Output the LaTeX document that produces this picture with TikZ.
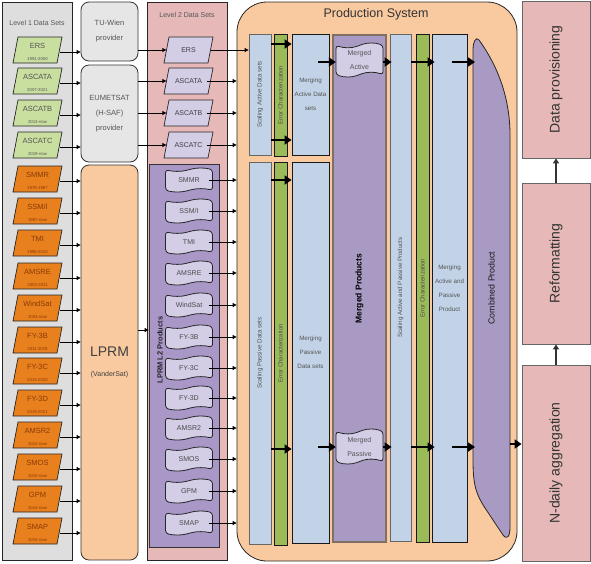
\documentclass[tikz,border=0pt]{standalone}
\usepackage{fontspec}
\setmainfont{Liberation Sans}
\usetikzlibrary{arrows.meta}
\definecolor{panelgray}{HTML}{DEDEDE}
\definecolor{provgray}{HTML}{E6E6E6}
\definecolor{lgreen}{HTML}{C9DF9F}
\definecolor{orng}{HTML}{E8801E}
\definecolor{orngtxt}{HTML}{8A3A06}
\definecolor{pinkp}{HTML}{E6B9B8}
\definecolor{lav}{HTML}{D3CDE6}
\definecolor{purp}{HTML}{A897C7}
\definecolor{peach}{HTML}{F9C9A0}
\definecolor{lblue}{HTML}{C2D3E7}
\definecolor{olive}{HTML}{9BBB59}
\definecolor{mpurp}{HTML}{A99AC4}
\definecolor{txtgray}{HTML}{555555}
\definecolor{mbrown}{HTML}{806F63}
\newcommand\fsz[2]{\fontsize{#1}{#2}\selectfont}
\newcommand\bx[7]{\node[#6,inner sep=0pt,minimum width={(#4-#2)*1pt},minimum height={(#5-#3)*1pt}] (#1) at ({(#2+#4)/2},{(#3+#5)/2}) {#7};}
\newcommand\para[6]{%
 \path[#4] ({#2-24.5},{#3+13}) -- ({#2-19.5},{#3-13}) -- ({#2+24.5},{#3-13}) -- ({#2+19.5},{#3+13}) -- cycle;
 \node[inner sep=0pt,minimum width=44pt,minimum height=26pt,#5] (#1) at (#2,#3) {#6};}
\newcommand\tape[7]{%
 \pgfmathsetmacro\tpxa{#2-#4/2}\pgfmathsetmacro\tpxb{#2+#4/2}%
 \pgfmathsetmacro\tpya{#3-#5/2}\pgfmathsetmacro\tpyb{#3+#5/2}%
 \pgfmathsetmacro\tpd{0.14*#5}\pgfmathsetmacro\tpw{#4}%
 \path[tapeshape] (\tpxa,{\tpya+\tpd/2}) .. controls ({\tpxa+\tpw/6},{\tpya+1.1*\tpd}) and ({\tpxa+\tpw/3},{\tpya+1.1*\tpd}) .. ({\tpxa+\tpw/2},{\tpya+\tpd/2}) .. controls ({\tpxa+2*\tpw/3},{\tpya-0.1*\tpd}) and ({\tpxa+5*\tpw/6},{\tpya-0.1*\tpd}) .. (\tpxb,{\tpya+\tpd/2}) -- (\tpxb,{\tpyb-\tpd/2}) .. controls ({\tpxa+5*\tpw/6},{\tpyb-1.1*\tpd}) and ({\tpxa+2*\tpw/3},{\tpyb-1.1*\tpd}) .. ({\tpxa+\tpw/2},{\tpyb-\tpd/2}) .. controls ({\tpxa+\tpw/3},{\tpyb+0.1*\tpd}) and ({\tpxa+\tpw/6},{\tpyb+0.1*\tpd}) .. (\tpxa,{\tpyb-\tpd/2}) -- cycle;
 \node[inner sep=0pt,minimum width=#4pt,minimum height=#5pt,#6] (#1) at (#2,#3) {#7};}
\tikzset{
 panel/.style={fill=panelgray,draw=black!85,line width=0.8pt},
 prov/.style={fill=provgray,draw=black!80,line width=0.8pt,rounded corners=8pt,align=center,text=txtgray,font=\fsz{7.5}{15}},
 title/.style={text=txtgray,font=\fsz{7}{8}},
 greenpar/.style={fill=lgreen,draw=black!85,line width=0.7pt},
 orangepar/.style={fill=orng,draw=black!85,line width=0.7pt},
 lavpar/.style={fill=lav,draw=black!85,line width=0.7pt},
 l1text/.style={align=center,font=\fsz{7.5}{12},yshift=-2pt},
 l2text/.style={text=black!75,font=\fsz{7}{8}},
 tapeshape/.style={fill=lav,draw=black!85,line width=0.8pt,rounded corners=3pt},
 tapetext/.style={text=black!70,font=\fsz{7}{8},align=center},
 bluebox/.style={fill=lblue,draw=black!60,line width=0.8pt,text=txtgray,font=\fsz{6.2}{14},align=center},
 blueboxk/.style={fill=lblue,draw=black!90,line width=0.8pt,text=txtgray,font=\fsz{6.2}{14},align=center},
 greenbox/.style={fill=olive,draw=black!90,line width=0.8pt,text=black!70,font=\fsz{6}{7}},
 pinkbox/.style={fill=pinkp,draw=black!60,line width=0.8pt,text=black!80,font=\fsz{14}{16}},
 thinarr/.style={draw=black,line width=0.8pt,-{Triangle[length=4pt,width=4pt]}},
 thickarr/.style={draw=black,line width=2.6pt,-{Triangle[length=7pt,width=9pt]}},
 vertarr/.style={draw=black!80,line width=1.3pt,-{Triangle[length=5pt,width=6pt]}},
}
\begin{document}
\begin{tikzpicture}[x=1pt,y=-1pt]
\useasboundingbox (0,0) rectangle (591,563);
% ---------- Level 1 ----------
\bx{l1p}{2}{2}{72}{560}{panel}{}
\node[title] (l1t) at (37,23) {Level 1 Data Sets};
\para{ers1}{37.5}{50}{greenpar}{l1text,text=txtgray}{ERS\\{\fsz{4.3}{12}1991-2000}}
\para{ascata1}{37.5}{81}{greenpar}{l1text,text=txtgray}{ASCATA\\{\fsz{4.3}{12}2007-2021}}
\para{ascatb1}{37.5}{113}{greenpar}{l1text,text=txtgray}{ASCATB\\{\fsz{4.3}{12}2013-now}}
\para{ascatc1}{37.5}{145}{greenpar}{l1text,text=txtgray}{ASCATC\\{\fsz{4.3}{12}2019-now}}
\para{smmr1}{37.5}{179}{orangepar}{l1text,text=orngtxt}{SMMR\\{\fsz{4.3}{12}1978-1987}}
\para{ssmi1}{37.5}{211}{orangepar}{l1text,text=orngtxt}{SSM/I\\{\fsz{4.3}{12}1987-now}}
\para{tmi1}{37.5}{243}{orangepar}{l1text,text=orngtxt}{TMI\\{\fsz{4.3}{12}1998-2015}}
\para{amsre1}{37.5}{276}{orangepar}{l1text,text=orngtxt}{AMSRE\\{\fsz{4.3}{12}2002-2011}}
\para{windsat1}{37.5}{308}{orangepar}{l1text,text=orngtxt}{WindSat\\{\fsz{4.3}{12}2003-now}}
\para{fythreeb1}{37.5}{340}{orangepar}{l1text,text=orngtxt}{FY-3B\\{\fsz{4.3}{12}2011-2019}}
\para{fythreec1}{37.5}{371}{orangepar}{l1text,text=orngtxt}{FY-3C\\{\fsz{4.3}{12}2013-2020}}
\para{fythreed1}{37.5}{403}{orangepar}{l1text,text=orngtxt}{FY-3D\\{\fsz{4.3}{12}2019-2021}}
\para{amsrtwo1}{37.5}{435}{orangepar}{l1text,text=orngtxt}{AMSR2\\{\fsz{4.3}{12}2012-now}}
\para{smos1}{37.5}{467}{orangepar}{l1text,text=orngtxt}{SMOS\\{\fsz{4.3}{12}2010-now}}
\para{gpm1}{37.5}{499}{orangepar}{l1text,text=orngtxt}{GPM\\{\fsz{4.3}{12}2014-now}}
\para{smap1}{37.5}{531}{orangepar}{l1text,text=orngtxt}{SMAP\\{\fsz{4.3}{12}2015-now}}
% ---------- Providers ----------
\bx{tuw}{81}{2}{138}{61}{prov}{TU-Wien\\provider}
\bx{eum}{81}{65}{138}{162}{prov}{EUMETSAT\\(H-SAF)\\provider}
\bx{lprm}{81}{165}{138}{560}{prov,fill=peach,text=black!75,font=\fsz{14}{20}}{LPRM\\{\fsz{7}{20}(VanderSat)}}
% ---------- Level 2 ----------
\bx{l2p}{147}{2}{227}{560}{panel,fill=pinkp}{}
\node[title] (l2t) at (187,15) {Level 2 Data Sets};
\para{ers2}{188.5}{50}{lavpar}{l2text}{ERS}
\para{ascata2}{188.5}{81}{lavpar}{l2text}{ASCATA}
\para{ascatb2}{188.5}{113}{lavpar}{l2text}{ASCATB}
\para{ascatc2}{188.5}{145}{lavpar}{l2text}{ASCATC}
\bx{lprml2}{149}{164}{219}{547}{fill=purp,draw=black!80,line width=0.8pt}{}
\node[font=\bfseries\fsz{7.5}{9},text=black!85] (lprml2t) at (160,350) {\rotatebox{90}{LPRM L2 Products}};
\tape{smmr2}{189}{180}{47}{24}{tapetext}{SMMR}
\tape{ssmi2}{189}{211}{47}{24}{tapetext}{SSM/I}
\tape{tmi2}{189}{242}{47}{24}{tapetext}{TMI}
\tape{amsre2}{189}{273}{47}{24}{tapetext}{AMSRE}
\tape{windsat2}{189}{305}{47}{24}{tapetext}{WindSat}
\tape{fythreeb2}{189}{337}{47}{24}{tapetext}{FY-3B}
\tape{fythreec2}{189}{368}{47}{24}{tapetext}{FY-3C}
\tape{fythreed2}{189}{398}{47}{24}{tapetext}{FY-3D}
\tape{amsrtwo2}{189}{428}{47}{24}{tapetext}{AMSR2}
\tape{smos2}{189}{459}{47}{24}{tapetext}{SMOS}
\tape{gpm2}{189}{491}{47}{24}{tapetext}{GPM}
\tape{smap2}{189}{523}{47}{24}{tapetext}{SMAP}
% ---------- Production system ----------
\bx{prod}{237}{2}{517}{561}{fill=peach,draw=black!85,line width=0.8pt,rounded corners=30pt}{}
\node[text=black!80,font=\fsz{12.5}{14}] (prodt) at (376,14) {Production System};
\bx{sa}{249}{34}{271}{155}{bluebox}{\rotatebox{90}{Scaling Active Data sets}}
\bx{ea}{274}{34}{287}{156}{greenbox}{\rotatebox{90}{Error Characterization}}
\bx{ma}{292}{34}{329}{155}{blueboxk}{Merging\\Active Data\\sets}
\bx{sp}{249}{162}{271}{544}{bluebox}{\rotatebox{90}{Scaling Passive Data sets}}
\bx{ep}{274}{162}{287}{545}{greenbox}{\rotatebox{90}{Error Characterization}}
\bx{mp}{292}{162}{329}{543}{blueboxk}{Merging\\Passive\\Data sets}
\bx{mprod}{333}{35}{386}{542}{fill=mpurp,draw=mbrown,line width=1.5pt,font=\bfseries\fsz{8.5}{10},text=black}{\rotatebox{90}{Merged Products}}
\bx{sap}{390}{34}{411}{541}{bluebox}{\rotatebox{90}{Scaling Active and Passive Products}}
\bx{ec}{416}{34}{429}{542}{greenbox}{\rotatebox{90}{Error Characterization}}
\bx{map}{432}{34}{467}{542}{blueboxk}{Merging\\Active and\\Passive\\Product}
\tape{mact}{359.5}{60}{47}{34}{tapetext,text=txtgray,font=\fsz{7}{14}}{Merged\\Active}
\tape{mpas}{359.5}{446.5}{47}{35}{tapetext,text=txtgray,font=\fsz{7}{14}}{Merged\\Passive}
\path[fill=mpurp,draw=black!85,line width=0.8pt] (473,50) .. controls (473,42) and (476,36) .. (479,40) .. controls (492,58) and (510,90) .. (510,135) -- (510,527) .. controls (510,537) and (507,540) .. (503,535) -- (485,508) .. controls (476,494) and (473,485) .. (473,460) -- cycle;
\node[inner sep=0pt,minimum width=37pt,minimum height=490pt,text=black!90,font=\fsz{8.8}{10}] (comb) at (491.5,288) {\rotatebox{90}{Combined Product}};
% ---------- Right column ----------
\bx{dprov}{522}{1}{590}{158}{pinkbox}{\rotatebox{90}{Data provisioning}}
\bx{reform}{522}{183}{590}{344}{pinkbox}{\rotatebox{90}{Reformatting}}
\bx{ndaily}{522}{365}{590}{561}{pinkbox}{\rotatebox{90}{N-daily aggregation}}
% ---------- Thin connectors ----------
\foreach \n in {ers1}{\draw[thinarr] (\n.east) -- (\n.east -| tuw.west);}
\foreach \n in {ascata1,ascatb1,ascatc1}{\draw[thinarr] (\n.east) -- (\n.east -| eum.west);}
\foreach \n in {smmr1,ssmi1,tmi1,amsre1,windsat1,fythreeb1,fythreec1,fythreed1,amsrtwo1,smos1,gpm1,smap1}{\draw[thinarr] (\n.east) -- (\n.east -| lprm.west);}
\draw[thinarr] (ers2.west -| tuw.east) -- (ers2.west);
\foreach \n in {ascata2,ascatb2,ascatc2}{\draw[thinarr] (\n.west -| eum.east) -- (\n.west);}
\draw[thinarr] (ers2.east) -- (ers2.east -| sa.west);
\foreach \n in {ascata2,ascatb2,ascatc2,smmr2,ssmi2,tmi2,amsre2,windsat2,fythreeb2,fythreec2,fythreed2,amsrtwo2,smos2,gpm2,smap2}{\draw[thinarr] ([xshift=-4pt]\n.east) -- (\n.east -| prod.west);}
\coordinate (lpa) at ([yshift=32.5pt]lprm.east);
\draw[thinarr] (lpa) -- (lpa -| lprml2.west);
% ---------- Thick connectors ----------
\coordinate (ya1) at (0,44);
\coordinate (ya2) at (0,140);
\coordinate (ya) at (0,62);
\coordinate (yp1) at (0,180);
\coordinate (yp2) at (0,449);
\coordinate (yp) at (0,447);
\coordinate (maI) at ([xshift=-11pt]ma.east);
\coordinate (mpI) at ([xshift=-11pt]mp.east);
\coordinate (mapI) at ([xshift=-15pt]map.east);
\coordinate (sapW) at ([xshift=2pt]sap.west);
\coordinate (mapW) at ([xshift=3pt]map.west);
\coordinate (combW) at (475,0);
\draw[thickarr] (sa.east |- ya1) -- (ma.west |- ya1);
\draw[thickarr] (sa.east |- ya2) -- (ma.west |- ya2);
\draw[thickarr] (maI |- ya) -- (mact.west |- ya);
\draw[thickarr] (mact.east |- ya) -- (sapW |- ya);
\draw[thickarr] (sap.east |- ya) -- (mapW |- ya);
\draw[thickarr] (mapI |- ya) -- (combW |- ya);
\draw[thickarr] (sp.east |- yp1) -- (mp.west |- yp1);
\draw[thickarr] (sp.east |- yp2) -- (mp.west |- yp2);
\draw[thickarr] (mpI |- yp) -- (mpas.west |- yp);
\draw[thickarr] (mpas.east |- yp) -- (sapW |- yp);
\draw[thickarr] (sap.east |- yp) -- (mapW |- yp);
\draw[thickarr] (mapI |- yp) -- (combW |- yp);
\coordinate (yn) at (0,444);
\draw[thickarr] (comb.east |- yn) -- (ndaily.west |- yn);
\draw[vertarr] (ndaily.north) -- (reform.south);
\draw[vertarr] (reform.north) -- (dprov.south);
\end{tikzpicture}
\end{document}
